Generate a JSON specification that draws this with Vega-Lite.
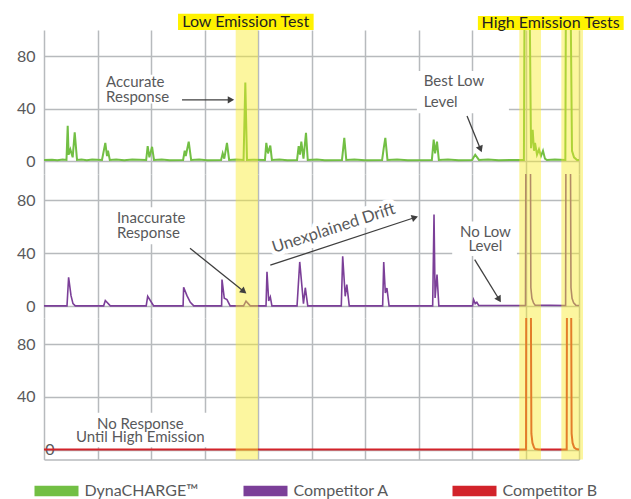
{
  "$schema": "https://vega.github.io/schema/vega-lite/v6.json",
  "background": "white",
  "padding": {"left": 16, "top": 13, "right": 0, "bottom": 0},
  "spacing": 0,
  "config": {
    "view": {"stroke": null},
    "axis": {"gridColor": "#b7babd", "gridWidth": 1.5, "labelFont": "Lato", "labelFontSize": 16, "labelColor": "#58595b", "ticks": false, "domain": false, "title": null, "labelPadding": 9},
    "text": {"font": "Lato"}
  },
  "resolve": {"scale": {"y": "independent", "color": "shared"}, "legend": {"color": "shared"}},
  "datasets": {
    "green": [
      {"t": 0, "v": 1}, {"t": 1.5, "v": 1.2}, {"t": 2.5, "v": 0.8}, {"t": 3.5, "v": 1.3}, {"t": 4.2, "v": 1},
      {"t": 4.43, "v": 27}, {"t": 4.6, "v": 5}, {"t": 4.92, "v": 9}, {"t": 5.36, "v": 3}, {"t": 5.74, "v": 22}, {"t": 6.17, "v": 1},
      {"t": 7, "v": 1.3}, {"t": 8, "v": 0.8}, {"t": 9, "v": 1.3}, {"t": 10.84, "v": 1},
      {"t": 11.46, "v": 14}, {"t": 11.78, "v": 4}, {"t": 11.96, "v": 8}, {"t": 12.3, "v": 1},
      {"t": 13.5, "v": 1.4}, {"t": 15, "v": 0.8}, {"t": 16.5, "v": 1.3}, {"t": 19.1, "v": 1},
      {"t": 19.38, "v": 11.5}, {"t": 19.7, "v": 3}, {"t": 20.2, "v": 11}, {"t": 20.56, "v": 1},
      {"t": 22, "v": 1.3}, {"t": 23.5, "v": 0.8}, {"t": 26.0, "v": 1},
      {"t": 26.3, "v": 8}, {"t": 26.5, "v": 4}, {"t": 27.05, "v": 15}, {"t": 27.5, "v": 1},
      {"t": 29, "v": 1.3}, {"t": 30.5, "v": 0.8}, {"t": 33.1, "v": 1},
      {"t": 33.4, "v": 6}, {"t": 33.7, "v": 2}, {"t": 34.2, "v": 14}, {"t": 34.6, "v": 1},
      {"t": 36, "v": 1.3}, {"t": 37.3, "v": 1}, {"t": 37.63, "v": 60}, {"t": 37.94, "v": 1},
      {"t": 39, "v": 1.2}, {"t": 41.3, "v": 1},
      {"t": 41.55, "v": 14}, {"t": 41.87, "v": 6}, {"t": 42.3, "v": 12}, {"t": 42.6, "v": 1},
      {"t": 44, "v": 1.3}, {"t": 45.5, "v": 0.8}, {"t": 47.3, "v": 1},
      {"t": 47.6, "v": 11.5}, {"t": 47.85, "v": 5}, {"t": 48.1, "v": 15}, {"t": 48.5, "v": 2}, {"t": 48.97, "v": 21.6}, {"t": 49.3, "v": 1},
      {"t": 51, "v": 1.3}, {"t": 52.5, "v": 0.8}, {"t": 55.7, "v": 1},
      {"t": 56.13, "v": 17.8}, {"t": 56.5, "v": 1},
      {"t": 58, "v": 1.3}, {"t": 60, "v": 0.8}, {"t": 63.2, "v": 1},
      {"t": 63.5, "v": 10}, {"t": 63.8, "v": 17.8}, {"t": 64.2, "v": 1},
      {"t": 66, "v": 1.3}, {"t": 68, "v": 0.8}, {"t": 72.5, "v": 1},
      {"t": 72.84, "v": 16.5}, {"t": 73.1, "v": 6}, {"t": 73.46, "v": 15}, {"t": 73.8, "v": 1},
      {"t": 75.5, "v": 1.3}, {"t": 77.5, "v": 0.8}, {"t": 80.0, "v": 1},
      {"t": 80.6, "v": 5}, {"t": 81.3, "v": 1},
      {"t": 83, "v": 1.3}, {"t": 85, "v": 0.8}, {"t": 89.7, "v": 1},
      {"t": 89.85, "v": 150}, {"t": 90.71, "v": 150}, {"t": 91.03, "v": 10}, {"t": 91.34, "v": 24}, {"t": 91.59, "v": 8},
      {"t": 91.78, "v": 14}, {"t": 92.15, "v": 5}, {"t": 92.52, "v": 9}, {"t": 92.9, "v": 4}, {"t": 93.27, "v": 8},
      {"t": 93.64, "v": 2}, {"t": 94.0, "v": 1}, {"t": 95.5, "v": 1.3}, {"t": 97.45, "v": 1},
      {"t": 97.57, "v": 150}, {"t": 98.37, "v": 150}, {"t": 98.69, "v": 8}, {"t": 99.07, "v": 3}, {"t": 99.63, "v": 1}, {"t": 100, "v": 1}
    ],
    "purple": [
      {"t": 0, "v": 0.3}, {"t": 4.3, "v": 0.3}, {"t": 4.6, "v": 21.9}, {"t": 5.05, "v": 8}, {"t": 5.42, "v": 2}, {"t": 5.85, "v": 0.3},
      {"t": 11.15, "v": 0.3}, {"t": 11.46, "v": 4.3}, {"t": 12.4, "v": 0.3},
      {"t": 19.1, "v": 0.3}, {"t": 19.38, "v": 7.5}, {"t": 20.5, "v": 0.3},
      {"t": 26.0, "v": 0.3}, {"t": 26.1, "v": 14.4}, {"t": 26.72, "v": 8}, {"t": 27.35, "v": 3}, {"t": 28.0, "v": 0.3},
      {"t": 33.2, "v": 0.3}, {"t": 33.27, "v": 20.2}, {"t": 33.7, "v": 6}, {"t": 34.2, "v": 5}, {"t": 34.8, "v": 0.3},
      {"t": 37.3, "v": 0.3}, {"t": 37.76, "v": 3.8}, {"t": 38.56, "v": 0.3},
      {"t": 41.5, "v": 0.3}, {"t": 41.68, "v": 26}, {"t": 42.0, "v": 4}, {"t": 42.3, "v": 7}, {"t": 42.6, "v": 0.3},
      {"t": 47.3, "v": 0.3}, {"t": 47.8, "v": 33.5}, {"t": 48.5, "v": 2}, {"t": 48.84, "v": 14}, {"t": 49.3, "v": 0.3},
      {"t": 55.57, "v": 0.3}, {"t": 55.83, "v": 37.8}, {"t": 56.3, "v": 7.5}, {"t": 56.6, "v": 16.4}, {"t": 57.06, "v": 0.3},
      {"t": 63.3, "v": 0.3}, {"t": 63.5, "v": 33.5}, {"t": 63.8, "v": 10}, {"t": 64.1, "v": 13.8}, {"t": 64.5, "v": 0.3},
      {"t": 72.65, "v": 0.3}, {"t": 72.9, "v": 69.3}, {"t": 73.1, "v": 6.3}, {"t": 73.46, "v": 24}, {"t": 73.8, "v": 0.3},
      {"t": 80.1, "v": 0.3}, {"t": 80.3, "v": 5}, {"t": 80.6, "v": 2}, {"t": 80.9, "v": 3}, {"t": 81.25, "v": 0.6},
      {"t": 90.0, "v": 0.6}, {"t": 90.09, "v": 150}, {"t": 90.9, "v": 150}, {"t": 91.0, "v": 14}, {"t": 91.2, "v": 6}, {"t": 91.5, "v": 2.5}, {"t": 91.8, "v": 0.8},
      {"t": 97.5, "v": 0.6}, {"t": 97.57, "v": 150}, {"t": 98.37, "v": 150}, {"t": 98.5, "v": 14}, {"t": 98.7, "v": 6}, {"t": 99.0, "v": 2.5}, {"t": 99.4, "v": 0.8}, {"t": 100, "v": 0.6}
    ],
    "red": [
      {"t": 0, "v": 0}, {"t": 90.1, "v": 0}, {"t": 90.15, "v": 150}, {"t": 90.97, "v": 150}, {"t": 91.1, "v": 12}, {"t": 91.3, "v": 5}, {"t": 91.6, "v": 1.5}, {"t": 91.8, "v": 0.3}, {"t": 92.5, "v": 0},
      {"t": 97.7, "v": 0}, {"t": 97.76, "v": 150}, {"t": 98.5, "v": 150}, {"t": 98.62, "v": 12}, {"t": 98.8, "v": 5}, {"t": 99.1, "v": 1.5}, {"t": 99.5, "v": 0.3}, {"t": 100, "v": 0}
    ],
    "bands": [{"x": 35.83, "x2": 40.0}, {"x": 88.84, "x2": 92.9}, {"x": 96.7, "x2": 100.75}],
    "boxes1": [{"x": 10.84, "x2": 25.8, "y": 44, "y2": 66}, {"x": 69.7, "x2": 86.9, "y": 36.6, "y2": 68.7}],
    "labels1": [{"x": 11.6, "y": 60.3, "text": "Accurate"}, {"x": 11.6, "y": 48.9, "text": "Response"}, {"x": 70.97, "y": 61, "text": "Best Low"}, {"x": 70.97, "y": 45.5, "text": "Level"}],
    "arrows1": [{"x": 25.8, "y": 46.8, "x2": 34.95, "y2": 46.8}, {"x": 79.07, "y": 34.4, "x2": 81.59, "y2": 9.2}],
    "titles": [{"x": 25.05, "x2": 50.4, "y": 100, "y2": 112.4, "cx": 37.7, "cy": 106.2, "text": "Low Emission Test"}, {"x": 81.1, "x2": 108.35, "y": 100, "y2": 110.7, "cx": 94.7, "cy": 105.3, "text": "High Emission Tests"}],
    "boxes2": [{"x": 13.0, "x2": 28.2, "y": 46.9, "y2": 74.8}, {"x": 76.3, "x2": 88.4, "y": 38, "y2": 64}],
    "labels2l": [{"x": 13.64, "y": 66.4, "text": "Inaccurate"}, {"x": 13.64, "y": 55.2, "text": "Response"}],
    "labels2c": [{"x": 82.5, "y": 56.2, "text": "No Low"}, {"x": 82.5, "y": 45.4, "text": "Level"}],
    "drift": [{"x": 54.15, "y": 58.9, "text": "Unexplained Drift"}],
    "arrows2": [{"x": 27.29, "y": 43.8, "x2": 37.36, "y2": 11.2}, {"x": 42.3, "y": 31, "x2": 69.33, "y2": 67.1}, {"x": 80.5, "y": 35.3, "x2": 85.08, "y2": 5.1}],
    "boxes3": [{"x": 4.3, "x2": 32.3, "y": 1.8, "y2": 28}],
    "labels3": [{"x": 18.0, "y": 19.6, "text": "No Response"}, {"x": 18.0, "y": 9.3, "text": "Until High Emission"}]
  },
  "vconcat": [
    {
      "width": 535, "height": 144,
      "layer": [
        {"data": {"name": "boxes1"}, "mark": {"type": "rect", "color": "white"},
         "encoding": {"x": {"field": "x", "type": "quantitative", "title": null, "scale": {"domain": [0, 100], "nice": false, "zero": false}, "axis": {"values": [0,10,20,30,40,50,60,70,80,90,100], "labels": false, "grid": true}}, "x2": {"field": "x2"},
           "y": {"field": "y", "type": "quantitative", "title": null, "scale": {"domain": [-9.7, 100], "nice": false, "zero": false}, "axis": {"values": [0,20,40,60,80,100], "labelExpr": "datum.value % 40 == 0 ? datum.label : ''", "grid": true}}, "y2": {"field": "y2"}}},
        {"data": {"name": "green"}, "mark": {"type": "line", "strokeWidth": 2, "clip": true},
         "encoding": {"x": {"field": "t", "type": "quantitative", "title": null}, "y": {"field": "v", "type": "quantitative", "title": null},
           "color": {"datum": "DynaCHARGE™", "type": "nominal",
             "scale": {"domain": ["DynaCHARGE™", "Competitor A", "Competitor B"], "range": ["#72bf44", "#7b3f98", "#d2232a"]},
             "legend": {"orient": "none", "legendX": -9.5, "legendY": 439, "direction": "horizontal", "gridAlign": "all", "title": null, "symbolType": "M-1,-0.24H1V0.24H-1Z", "symbolSize": 1936, "symbolStrokeWidth": 0,
               "labelFont": "Lato", "labelFontSize": 16, "labelColor": "#58595b", "columnPadding": 45, "labelOffset": 6,
               "encode": {"symbols": {"update": {"fill": {"scale": "color", "field": "value"}, "stroke": {"value": "transparent"}, "opacity": {"value": 1}}}}}}}},
        {"data": {"name": "bands"}, "mark": {"type": "rect", "color": "#f8ec2a", "opacity": 0.45},
         "encoding": {"x": {"field": "x", "type": "quantitative", "title": null}, "x2": {"field": "x2"}}},
        {"data": {"name": "arrows1"}, "mark": {"type": "rule", "color": "#3f3f3f", "strokeWidth": 1.3},
         "encoding": {"x": {"field": "x", "type": "quantitative", "title": null}, "y": {"field": "y", "type": "quantitative", "title": null}, "x2": {"field": "x2"}, "y2": {"field": "y2"}}},
        {"data": {"values": [{"x": 34.95, "y": 46.8}]}, "mark": {"type": "point", "shape": "triangle-up", "filled": true, "size": 55, "color": "#3f3f3f", "opacity": 1, "angle": 90},
         "encoding": {"x": {"field": "x", "type": "quantitative", "title": null}, "y": {"field": "y", "type": "quantitative", "title": null}}},
        {"data": {"values": [{"x": 81.59, "y": 9.2}]}, "mark": {"type": "point", "shape": "triangle-up", "filled": true, "size": 55, "color": "#3f3f3f", "opacity": 1, "angle": 157.8},
         "encoding": {"x": {"field": "x", "type": "quantitative", "title": null}, "y": {"field": "y", "type": "quantitative", "title": null}}},
        {"data": {"name": "labels1"}, "mark": {"type": "text", "align": "left", "baseline": "middle", "fontSize": 15, "color": "#58595b"},
         "encoding": {"x": {"field": "x", "type": "quantitative", "title": null}, "y": {"field": "y", "type": "quantitative", "title": null}, "text": {"field": "text"}}},
        {"data": {"name": "titles"}, "mark": {"type": "rect", "color": "#fff200"},
         "encoding": {"x": {"field": "x", "type": "quantitative", "title": null}, "x2": {"field": "x2"}, "y": {"field": "y", "type": "quantitative", "title": null}, "y2": {"field": "y2"}}},
        {"data": {"name": "titles"}, "mark": {"type": "text", "align": "center", "baseline": "middle", "fontSize": 16, "color": "#231f20"},
         "encoding": {"x": {"field": "cx", "type": "quantitative", "title": null}, "y": {"field": "cy", "type": "quantitative", "title": null}, "text": {"field": "text"}}}
      ]
    },
    {
      "width": 535, "height": 144,
      "layer": [
        {"data": {"name": "boxes2"}, "mark": {"type": "rect", "color": "white"},
         "encoding": {"x": {"field": "x", "type": "quantitative", "title": null, "scale": {"domain": [0, 100], "nice": false, "zero": false}, "axis": {"values": [0,10,20,30,40,50,60,70,80,90,100], "labels": false, "grid": true}}, "x2": {"field": "x2"},
           "y": {"field": "y", "type": "quantitative", "title": null, "scale": {"domain": [-8.9, 100], "nice": false, "zero": false}, "axis": {"values": [0,20,40,60,80,100], "labelExpr": "datum.value % 40 == 0 ? datum.label : ''", "grid": true}}, "y2": {"field": "y2"}}},
        {"data": {"name": "purple"}, "mark": {"type": "line", "strokeWidth": 1.6, "clip": true},
         "encoding": {"x": {"field": "t", "type": "quantitative", "title": null}, "y": {"field": "v", "type": "quantitative", "title": null},
           "color": {"datum": "Competitor A", "type": "nominal"}}},
        {"data": {"name": "bands"}, "mark": {"type": "rect", "color": "#f8ec2a", "opacity": 0.45},
         "encoding": {"x": {"field": "x", "type": "quantitative", "title": null}, "x2": {"field": "x2"}}},
        {"data": {"name": "arrows2"}, "mark": {"type": "rule", "color": "#3f3f3f", "strokeWidth": 1.3},
         "encoding": {"x": {"field": "x", "type": "quantitative", "title": null}, "y": {"field": "y", "type": "quantitative", "title": null}, "x2": {"field": "x2"}, "y2": {"field": "y2"}}},
        {"data": {"values": [{"x": 37.36, "y": 11.2}]}, "mark": {"type": "point", "shape": "triangle-up", "filled": true, "size": 55, "color": "#3f3f3f", "opacity": 1, "angle": 128.7},
         "encoding": {"x": {"field": "x", "type": "quantitative", "title": null}, "y": {"field": "y", "type": "quantitative", "title": null}}},
        {"data": {"values": [{"x": 69.33, "y": 67.1}]}, "mark": {"type": "point", "shape": "triangle-up", "filled": true, "size": 55, "color": "#3f3f3f", "opacity": 1, "angle": 71.7},
         "encoding": {"x": {"field": "x", "type": "quantitative", "title": null}, "y": {"field": "y", "type": "quantitative", "title": null}}},
        {"data": {"values": [{"x": 85.08, "y": 5.1}]}, "mark": {"type": "point", "shape": "triangle-up", "filled": true, "size": 55, "color": "#3f3f3f", "opacity": 1, "angle": 148.5},
         "encoding": {"x": {"field": "x", "type": "quantitative", "title": null}, "y": {"field": "y", "type": "quantitative", "title": null}}},
        {"data": {"name": "labels2l"}, "mark": {"type": "text", "align": "left", "baseline": "middle", "fontSize": 15, "color": "#58595b"},
         "encoding": {"x": {"field": "x", "type": "quantitative", "title": null}, "y": {"field": "y", "type": "quantitative", "title": null}, "text": {"field": "text"}}},
        {"data": {"name": "labels2c"}, "mark": {"type": "text", "align": "center", "baseline": "middle", "fontSize": 15, "color": "#58595b"},
         "encoding": {"x": {"field": "x", "type": "quantitative", "title": null}, "y": {"field": "y", "type": "quantitative", "title": null}, "text": {"field": "text"}}},
        {"data": {"name": "drift"}, "mark": {"type": "text", "align": "center", "baseline": "middle", "fontSize": 16.5, "angle": 342, "color": "white", "stroke": "white", "strokeWidth": 9, "strokeJoin": "round"},
         "encoding": {"x": {"field": "x", "type": "quantitative", "title": null}, "y": {"field": "y", "type": "quantitative", "title": null}, "text": {"field": "text"}}},
        {"data": {"name": "drift"}, "mark": {"type": "text", "align": "center", "baseline": "middle", "fontSize": 16.5, "angle": 342, "color": "#58595b"},
         "encoding": {"x": {"field": "x", "type": "quantitative", "title": null}, "y": {"field": "y", "type": "quantitative", "title": null}, "text": {"field": "text"}}}
      ]
    },
    {
      "width": 535, "height": 141.5,
      "layer": [
        {"data": {"name": "boxes3"}, "mark": {"type": "rect", "color": "white"},
         "encoding": {"x": {"field": "x", "type": "quantitative", "title": null, "scale": {"domain": [0, 100], "nice": false, "zero": false}, "axis": {"values": [0,10,20,30,40,50,60,70,80,90,100], "labels": false, "grid": true, "domain": true, "domainColor": "#b7babd", "domainWidth": 1.5}}, "x2": {"field": "x2"},
           "y": {"field": "y", "type": "quantitative", "title": null, "scale": {"domain": [-7.6, 100], "nice": false, "zero": false}, "axis": {"values": [0,20,40,60,80,100], "labelExpr": "datum.value % 40 == 0 ? datum.label : ''", "grid": true, "labelPadding": {"condition": {"test": "datum.value == 0", "value": -10}, "value": 9}}}, "y2": {"field": "y2"}}},
        {"data": {"name": "red"}, "mark": {"type": "line", "strokeWidth": 2, "clip": true},
         "encoding": {"x": {"field": "t", "type": "quantitative", "title": null}, "y": {"field": "v", "type": "quantitative", "title": null},
           "color": {"datum": "Competitor B", "type": "nominal"}}},
        {"data": {"name": "bands"}, "mark": {"type": "rect", "color": "#f8ec2a", "opacity": 0.45},
         "encoding": {"x": {"field": "x", "type": "quantitative", "title": null}, "x2": {"field": "x2"}}},
        {"data": {"name": "labels3"}, "mark": {"type": "text", "align": "center", "baseline": "middle", "fontSize": 15, "color": "#58595b"},
         "encoding": {"x": {"field": "x", "type": "quantitative", "title": null}, "y": {"field": "y", "type": "quantitative", "title": null}, "text": {"field": "text"}}}
      ]
    }
  ]
}
